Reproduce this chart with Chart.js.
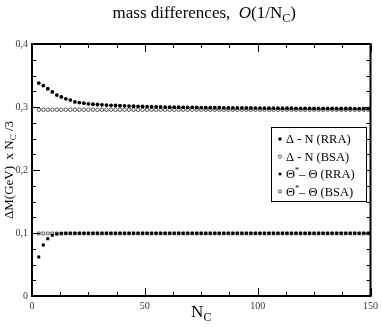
<!DOCTYPE html>
<html><head><meta charset="utf-8">
<script src="https://cdn.jsdelivr.net/npm/chart.js@4/dist/chart.umd.min.js"></script>
<style>html,body{margin:0;padding:0;background:#fff;}#wrap{position:relative;width:382px;height:327px;}</style>
</head><body><div id="wrap"><canvas id="c" width="382" height="327"></canvas></div>
<script>
// ---- data ----
const NC = [3,5,7,9,11,13,15,17,19,21,23,25,27,29,31,33,35,37,39,41,43,45,47,49,51,53,55,57,59,61,63,65,67,69,71,73,75,77,79,81,83,85,87,89,91,93,95,97,99,101,103,105,107,109,111,113,115,117,119,121,123,125,127,129,131,133,135,137,139,141,143,145,147,149];
const deltaRRA = [0.338,0.334,0.329,0.324,0.319,0.316,0.313,0.311,0.308,0.307,0.306,0.305,0.3045,0.304,0.3035,0.303,0.3027,0.3024,0.3021,0.3018,0.3015,0.3012,0.301,0.3008,0.3006,0.3004,0.3002,0.3,0.2999,0.2998,0.2997,0.2996,0.2995,0.2994,0.2993,0.2992,0.2991,0.299,0.2989,0.2988,0.2988,0.2987,0.2986,0.2986,0.2985,0.2985,0.2984,0.2984,0.2983,0.2983,0.2982,0.2982,0.2981,0.2981,0.298,0.298,0.298,0.2979,0.2979,0.2979,0.2978,0.2978,0.2978,0.2977,0.2977,0.2977,0.2976,0.2976,0.2976,0.2976,0.2975,0.2975,0.2975,0.2975];
const deltaBSA = [0.2957,0.2957,0.2957,0.2957,0.2957,0.2957,0.2957,0.2957,0.2957,0.2957,0.2957,0.2957,0.2957,0.2957,0.2957,0.2957,0.2957,0.2957,0.2957,0.2957,0.2957,0.2957,0.2957,0.2957,0.2957,0.2957,0.2957,0.2957,0.2957,0.2957,0.2957,0.2957,0.2957,0.2957,0.2957,0.2957,0.2957,0.2957,0.2957,0.2957,0.2957,0.2957,0.2957,0.2957,0.2957,0.2957,0.2957,0.2957,0.2957,0.2957,0.2957,0.2957,0.2957,0.2957,0.2957,0.2957,0.2957,0.2957,0.2957,0.2957,0.2957,0.2957,0.2957,0.2957,0.2957,0.2957,0.2957,0.2957,0.2957,0.2957,0.2957,0.2957,0.2957,0.2957];
const thetaRRA = [0.062,0.081,0.091,0.0965,0.0985,0.0992,0.0995,0.0996,0.0996,0.0996,0.0996,0.0996,0.0996,0.0996,0.0996,0.0996,0.0996,0.0996,0.0996,0.0996,0.0996,0.0996,0.0996,0.0996,0.0996,0.0996,0.0996,0.0996,0.0996,0.0996,0.0996,0.0996,0.0996,0.0996,0.0996,0.0996,0.0996,0.0996,0.0996,0.0996,0.0996,0.0996,0.0996,0.0996,0.0996,0.0996,0.0996,0.0996,0.0996,0.0996,0.0996,0.0996,0.0996,0.0996,0.0996,0.0996,0.0996,0.0996,0.0996,0.0996,0.0996,0.0996,0.0996,0.0996,0.0996,0.0996,0.0996,0.0996,0.0996,0.0996,0.0996,0.0996,0.0996,0.0996];
const thetaBSA = [0.0993,0.0993,0.0993,0.0993,0.0993,0.0993,0.0993,0.0993,0.0993,0.0993,0.0993,0.0993,0.0993,0.0993,0.0993,0.0993,0.0993,0.0993,0.0993,0.0993,0.0993,0.0993,0.0993,0.0993,0.0993,0.0993,0.0993,0.0993,0.0993,0.0993,0.0993,0.0993,0.0993,0.0993,0.0993,0.0993,0.0993,0.0993,0.0993,0.0993,0.0993,0.0993,0.0993,0.0993,0.0993,0.0993,0.0993,0.0993,0.0993,0.0993,0.0993,0.0993,0.0993,0.0993,0.0993,0.0993,0.0993,0.0993,0.0993,0.0993,0.0993,0.0993,0.0993,0.0993,0.0993,0.0993,0.0993,0.0993,0.0993,0.0993,0.0993,0.0993,0.0993,0.0993];
const seriesLabels = ['Δ - N (RRA)','Δ - N (BSA)','Θ*– Θ (RRA)','Θ*– Θ (BSA)'];
const xTickValues = [0,50,100,150];
const yTickValues = [0,0.1,0.2,0.3,0.4];
const yTickLabels = ['0','0,1','0,2','0,3','0,4'];
const xMinorStep = 12.5, yMinorStep = 0.025;

const SERIF = '"Liberation Serif","DejaVu Serif",serif';
const pts = v => v.map((y,i)=>({x:NC[i], y}));

function drawRich(ctx, parts, x, y, align){
  let w = 0;
  parts.forEach(p=>{ctx.font=p.font; p.w=ctx.measureText(p.t).width; w+=p.w;});
  let cx = align==='center' ? x - w/2 : x;
  ctx.textAlign='left'; ctx.textBaseline='alphabetic';
  parts.forEach(p=>{ctx.font=p.font; ctx.fillText(p.t, cx, y + (p.dy||0)); cx+=p.w;});
}

const framePlugin = {
  id:'frame',
  afterDatasetsDraw(chart){
    const {ctx, chartArea:a, scales:{x,y}} = chart;
    ctx.save();
    ctx.strokeStyle='#000'; ctx.lineWidth=1;
    ctx.beginPath();
    for(let v=x.min; v<=x.max+1e-9; v+=xMinorStep){
      const px = Math.round(x.getPixelForValue(v))+0.5;
      const len = (Math.abs(v%50)<1e-6)?8:4;
      ctx.moveTo(px,a.bottom); ctx.lineTo(px,a.bottom-len);
      ctx.moveTo(px,a.top); ctx.lineTo(px,a.top+len);
    }
    for(let v=y.min; v<=y.max+1e-9; v+=yMinorStep){
      const py = Math.round(y.getPixelForValue(v))+0.5;
      const len = (Math.abs((v*10)-Math.round(v*10))<1e-6)?8:4;
      ctx.moveTo(a.left,py); ctx.lineTo(a.left+len,py);
      ctx.moveTo(a.right,py); ctx.lineTo(a.right-len,py);
    }
    ctx.stroke();
    ctx.lineWidth=2;
    ctx.strokeRect(a.left,a.top,a.width,a.height);
    ctx.restore();
  },
  afterDraw(chart){
    const {ctx, chartArea:a} = chart;
    ctx.save();
    ctx.fillStyle='#000';
    // title
    const cxT = (a.left+a.right)/2+3;
    drawRich(ctx,[
      {t:'mass differences,  ', font:'17px '+SERIF},
      {t:'O', font:'italic 17px '+SERIF},
      {t:'(1/N', font:'17px '+SERIF},
      {t:'C', font:'12px '+SERIF, dy:4},
      {t:')', font:'17px '+SERIF}
    ], cxT, 18, 'center');
    // x axis title
    drawRich(ctx,[
      {t:'N', font:'17px '+SERIF},
      {t:'C', font:'12px '+SERIF, dy:4}
    ], (a.left+a.right)/2, 317, 'center');
    // y axis title
    ctx.save();
    ctx.translate(13,(a.top+a.bottom)/2);
    ctx.rotate(-Math.PI/2);
    drawRich(ctx,[
      {t:'ΔM(GeV)  x N', font:'13px '+SERIF},
      {t:'C', font:'9px '+SERIF, dy:3},
      {t:' /3', font:'13px '+SERIF}
    ], 0, 0, 'center');
    ctx.restore();
    // legend
    const bx = 271, by = 127, bw = 95, bh = 74;
    ctx.fillStyle='#fff'; ctx.fillRect(bx,by,bw,bh);
    ctx.strokeStyle='#000'; ctx.lineWidth=1;
    ctx.strokeRect(bx+0.5,by+0.5,bw,bh);
    chart.data.datasets.forEach((ds,i)=>{
      const ry = by + 12 + i*17.5;
      ctx.fillStyle = ds.backgroundColor; ctx.strokeStyle = ds.borderColor; ctx.lineWidth = ds.borderWidth||0.001;
      Chart.helpers.drawPoint(ctx,{pointStyle:ds.pointStyle, radius:ds.pointRadius*0.9, borderWidth:ds.borderWidth, rotation:0}, 280, ry);
      ctx.fillStyle='#000';
      const lbl = ds.label;
      if(lbl.indexOf('*')>=0){
        const [a1,b1] = lbl.split('*');
        drawRich(ctx,[
          {t:a1, font:'12.5px '+SERIF},
          {t:'*', font:'8px '+SERIF, dy:-5},
          {t:b1, font:'12.5px '+SERIF}
        ], 286, ry+4, 'left');
      } else {
        drawRich(ctx,[{t:lbl, font:'12.5px '+SERIF}], 286, ry+4, 'left');
      }
    });
    ctx.restore();
  }
};

new Chart(document.getElementById('c'),{
  type:'scatter',
  data:{datasets:[
    {label:seriesLabels[0], data:pts(deltaRRA), pointStyle:'circle', pointRadius:1.9, backgroundColor:'#000', borderColor:'#000', borderWidth:0},
    {label:seriesLabels[1], data:pts(deltaBSA), pointStyle:'circle', pointRadius:1.8, backgroundColor:'#fff', borderColor:'#444', borderWidth:0.9},
    {label:seriesLabels[2], data:pts(thetaRRA), pointStyle:'rect', pointRadius:2.1, backgroundColor:'#000', borderColor:'#000', borderWidth:0},
    {label:seriesLabels[3], data:pts(thetaBSA), pointStyle:'rect', pointRadius:2.0, backgroundColor:'#fff', borderColor:'#555', borderWidth:0.9}
  ]},
  options:{
    responsive:false, animation:false, devicePixelRatio:1,
    layout:{padding:{top:44,right:8,left:0,bottom:0}},
    plugins:{legend:{display:false}, title:{display:false}, tooltip:{enabled:false}},
    scales:{
      x:{type:'linear', min:0, max:150,
        afterBuildTicks:s=>{s.ticks = xTickValues.map(v=>({value:v}));},
        ticks:{font:{family:SERIF,size:10}, color:'#333', padding:4, maxRotation:0},
        grid:{display:false, drawTicks:false}, border:{display:false},
        afterFit:s=>{s.height=31;}},
      y:{type:'linear', min:0, max:0.4,
        afterBuildTicks:s=>{s.ticks = yTickValues.map(v=>({value:v}));},
        ticks:{font:{family:SERIF,size:10}, color:'#333', padding:4,
          callback:(v)=>{const i=yTickValues.findIndex(t=>Math.abs(t-v)<1e-9); return i>=0?yTickLabels[i]:'';}},
        grid:{display:false, drawTicks:false}, border:{display:false},
        afterFit:s=>{s.width=32;}}
    }
  },
  plugins:[framePlugin]
});
</script></body></html>
